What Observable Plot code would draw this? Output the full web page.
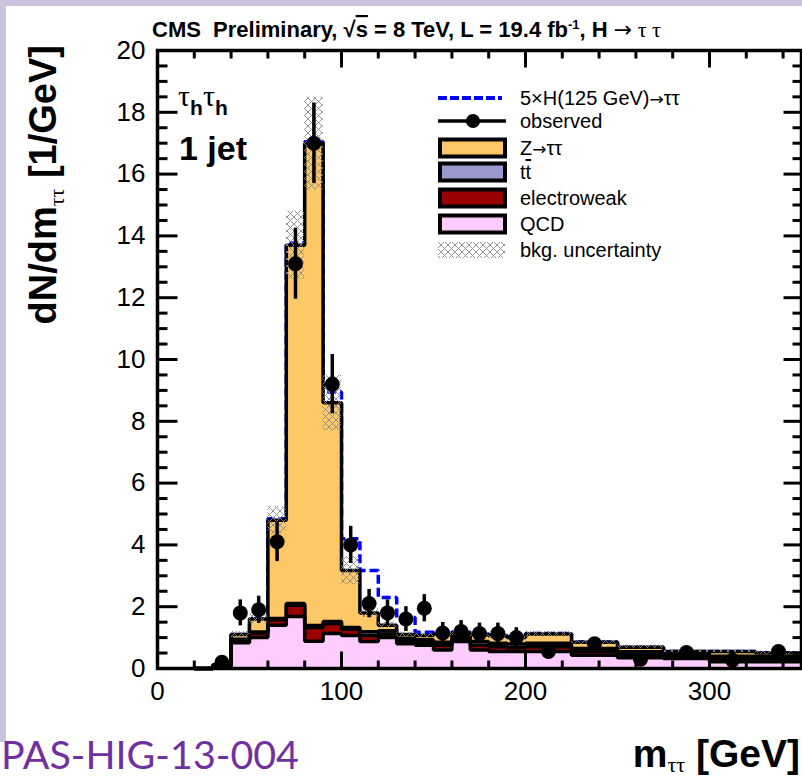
<!DOCTYPE html>
<html><head><meta charset="utf-8">
<script src="https://cdn.jsdelivr.net/npm/d3@7"></script>
<script src="https://cdn.jsdelivr.net/npm/@observablehq/plot@0.6"></script>
<style>
html,body{margin:0;padding:0;background:#fff;}
#wrap{position:relative;width:802px;height:778px;overflow:hidden;}
</style></head><body><div id="wrap"></div>
<script>
// ---- data (per bin, dN/dm in 1/GeV) ----
const binEdges = [20,30,40,50,60,70,80,90,100,110,120,130,140,150,160,170,180,190,200,225,250,275,300,325,350];
const qcd      = [0,0.08,0.83,1.0,1.4,1.68,0.88,1.13,1.07,0.87,1.0,0.8,0.75,0.6,0.87,0.6,0.55,0.55,0.55,0.43,0.35,0.32,0.22,0.22];
const ewk      = [0,0.01,0.1,0.15,0.18,0.37,0.45,0.33,0.2,0.2,0.12,0.1,0.1,0.15,0.1,0.15,0.15,0.12,0.15,0.12,0.1,0.08,0.1,0.08];
const ttbar    = [0,0,0.02,0.03,0.04,0.05,0.06,0.06,0.06,0.12,0.1,0.08,0.08,0.1,0.08,0.12,0.12,0.12,0.12,0.1,0.09,0.07,0.08,0.08];
const ztt      = [0,0.03,0.15,0.42,3.18,11.6,15.6,7.08,1.84,0.61,0.18,0.12,0.14,0.27,0.1,0.23,0.23,0.21,0.3,0.2,0.15,0.08,0.15,0.12];
const higgs5x  = [0,0,0,0,0.05,0.06,0.06,0.35,1.03,1.37,0.9,0.55,0.1,0.04,0.03,0.02,0.02,0.02,0.01,0.01,0,0,0,0];
const bkgUnc   = [0,0.02,0.1,0.15,0.45,1.1,1.5,0.9,0.45,0.15,0.1,0.08,0.08,0.08,0.08,0.08,0.08,0.08,0.08,0.06,0.05,0.04,0.04,0.04];
const observed = [null,0.2,1.8,1.9,4.1,13.1,17.0,9.2,4.0,2.1,1.8,1.6,1.95,1.15,1.2,1.13,1.13,1.0,0.55,0.8,0.3,0.52,0.27,0.55];
const obsErr   = [0,0.14,0.42,0.44,0.64,1.15,1.3,0.96,0.6,0.46,0.42,0.4,0.44,0.34,0.35,0.34,0.34,0.32,0.15,0.18,0.11,0.15,0.1,0.15];
const xTickLabels = [0,100,200,300];
const yTickLabels = [0,2,4,6,8,10,12,14,16,18,20];
const legendLabels = ["5\u00d7H(125 GeV)\u2192\u03c4\u03c4","observed","Z\u2192\u03c4\u03c4","tt\u0304","electroweak","QCD","bkg. uncertainty"];

const colors = {z:"#fdc865", tt:"#9999cc", ewk:"#990000", qcd:"#ffccff", sig:"#0000ff"};

const bins = qcd.map((q,i)=>{
  const c1 = q, c2 = c1+ewk[i], c3 = c2+ttbar[i], c4 = c3+ztt[i];
  return {x1: binEdges[i], x2: binEdges[i+1], c: (binEdges[i]+binEdges[i+1])/2,
          c1, c2, c3, c4, sig: c4+higgs5x[i], unc: bkgUnc[i], obs: observed[i], err: obsErr[i]};
});
const steps = bins.map(b=>({x:b.x1, c1:b.c1, c2:b.c2, c3:b.c3, c4:b.c4, sig:b.sig}));
{ const L = bins[bins.length-1]; steps.push({x:L.x2, c1:L.c1, c2:L.c2, c3:L.c3, c4:L.c4, sig:L.sig}); }
const obsRows = bins.filter(b=>b.obs!=null);

const tickSym = (dx,dy)=>({draw(ctx){ctx.moveTo(0,0);ctx.lineTo(dx,dy);}});
const yMinor = d3.range(0,20.001,0.5).filter(v=>v%2!==0);
const xMinor = d3.range(0,350,20).filter(v=>v%100!==0);

const lineOpt = (key)=>({x:"x", y:key, curve:"step-after", stroke:"black", strokeWidth:3.5, strokeLinejoin:"miter", strokeLinecap:"butt"});
const tickOpt = (sym)=>({symbol:sym, stroke:"black", fill:"none", strokeWidth:3});

const svg = Plot.plot({
  width: 802, height: 778,
  marginLeft: 157, marginRight: 1, marginTop: 50, marginBottom: 110,
  style: {fontFamily: "'Liberation Sans', Arial, sans-serif", fontSize: "26px", background: "transparent", overflow: "visible"},
  x: {domain: [0,350], ticks: xTickLabels, tickSize: 0, tickPadding: 13, label: null},
  y: {domain: [0,20], ticks: yTickLabels, tickSize: 0, tickPadding: 12, label: null},
  marks: [
    Plot.lineY(steps, {x:"x", y:"sig", curve:"step-after", stroke:colors.sig, strokeWidth:3.5, strokeDasharray:"9,4", strokeLinejoin:"miter", strokeLinecap:"butt"}),
    Plot.areaY(steps, {x:"x", y1:"c3", y2:"c4", curve:"step-after", fill:colors.z}),
    Plot.areaY(steps, {x:"x", y1:"c2", y2:"c3", curve:"step-after", fill:colors.tt}),
    Plot.areaY(steps, {x:"x", y1:"c1", y2:"c2", curve:"step-after", fill:colors.ewk}),
    Plot.areaY(steps, {x:"x", y1:0, y2:"c1", curve:"step-after", fill:colors.qcd}),
    Plot.lineY(steps, lineOpt("c4")),
    Plot.lineY(steps, lineOpt("c3")),
    Plot.lineY(steps, lineOpt("c2")),
    Plot.lineY(steps, lineOpt("c1")),
    Plot.rect(bins.filter(b=>b.unc>0), {x1:"x1", x2:"x2", y1:d=>d.c4-d.unc, y2:d=>d.c4+d.unc, fill:"url(#bkgHatch)"}),
    Plot.ruleX(obsRows, {x:"c", y1:d=>d.obs-d.err, y2:d=>d.obs+d.err, stroke:"black", strokeWidth:3.5}),
    Plot.dot(obsRows, {x:"c", y:"obs", r:7.5, fill:"black", stroke:"none"}),
    Plot.dot(yMinor, {x:()=>0, y:d=>d, ...tickOpt(tickSym(10,0))}),
    Plot.dot(yTickLabels, {x:()=>0, y:d=>d, ...tickOpt(tickSym(20,0))}),
    Plot.dot(yMinor, {x:()=>350, y:d=>d, ...tickOpt(tickSym(-9,0))}),
    Plot.dot(yTickLabels, {x:()=>350, y:d=>d, ...tickOpt(tickSym(-18,0))}),
    Plot.dot(xMinor, {x:d=>d, y:()=>0, ...tickOpt(tickSym(0,-8))}),
    Plot.dot(xTickLabels, {x:d=>d, y:()=>0, ...tickOpt(tickSym(0,-17))}),
    Plot.dot(xMinor, {x:d=>d, y:()=>20, ...tickOpt(tickSym(0,8))}),
    Plot.dot(xTickLabels, {x:d=>d, y:()=>20, ...tickOpt(tickSym(0,17))}),
    Plot.frame({stroke:"black", strokeWidth:3.5})
  ]
});
document.getElementById("wrap").appendChild(svg);

const S = d3.select(svg);
const pat = S.insert("defs", ":first-child").append("pattern")
  .attr("id","bkgHatch").attr("patternUnits","userSpaceOnUse").attr("width",7).attr("height",7);
pat.append("path").attr("d","M0,0L7,7M7,0L0,7M-1,6L1,8M6,-1L8,1")
  .attr("stroke","#8a8a8a").attr("stroke-width",0.9).attr("fill","none");

S.append("rect").attr("x",0).attr("y",0).attr("width",802).attr("height",6).attr("fill","#cbc3de");
S.append("rect").attr("x",0).attr("y",0).attr("width",6).attr("height",742).attr("fill","#cbc3de");

const SANS = "'Liberation Sans', Arial, sans-serif";
const SERIF = "'Liberation Serif', 'Times New Roman', serif";
const ARROW = "'DejaVu Sans', sans-serif";
const txt = (x,y,anchor="start")=>S.append("text").attr("x",x).attr("y",y).attr("text-anchor",anchor).attr("fill","black");

// title
const t = txt(152,37).attr("font-family",SANS).attr("font-size",22).attr("font-weight","bold");
t.append("tspan").text("CMS  Preliminary, \u221a");
t.append("tspan").style("text-decoration","overline").text("s");
t.append("tspan").text(" = 8 TeV, L = 19.4 fb");
t.append("tspan").attr("font-size",13).attr("dy",-8).text("-1");
t.append("tspan").attr("dy",8).text(", H ");
t.append("tspan").attr("font-weight","normal").attr("font-family",ARROW).text("\u2192");
t.append("tspan").attr("font-weight","normal").attr("font-family",SERIF).text(" \u03c4 \u03c4");

// y label
const yl = S.append("text").attr("transform","translate(56,45) rotate(-90)").attr("text-anchor","end")
  .attr("font-family",SANS).attr("font-size",38).attr("font-weight","bold").attr("fill","black");
yl.append("tspan").text("dN/dm");
yl.append("tspan").attr("font-size",22).attr("font-weight","normal").attr("font-family",SERIF).attr("dy",8).text("\u03c4\u03c4");
yl.append("tspan").attr("dy",-8).text(" [1/GeV]");

// x label
const xl = txt(800,767,"end").attr("font-family",SANS).attr("font-size",39).attr("font-weight","bold");
xl.append("tspan").text("m");
xl.append("tspan").attr("font-size",22).attr("font-weight","normal").attr("font-family",SERIF).attr("dy",5).text("\u03c4\u03c4");
xl.append("tspan").attr("dy",-5).text(" [GeV]");

// PAS label
txt(1,769).attr("font-family","Lato, 'Open Sans', sans-serif").attr("font-size",38)
  .attr("fill","#7030a0").attr("textLength",298).attr("lengthAdjust","spacingAndGlyphs").text("PAS-HIG-13-004");

// category label
const c1 = txt(178,106);
c1.append("tspan").attr("font-family",SERIF).attr("font-size",30).text("\u03c4");
c1.append("tspan").attr("font-family",SANS).attr("font-weight","bold").attr("font-size",21).attr("dy",9).text("h");
c1.append("tspan").attr("font-family",SERIF).attr("font-size",30).attr("dy",-9).text("\u03c4");
c1.append("tspan").attr("font-family",SANS).attr("font-weight","bold").attr("font-size",21).attr("dy",9).text("h");
txt(179,160).attr("font-family",SANS).attr("font-weight","bold").attr("font-size",34).text("1 jet");

// legend
const rowsY = [98,121,148,172,198,224,250];
const lg = S.append("g");
lg.append("line").attr("x1",438).attr("x2",502).attr("y1",rowsY[0]).attr("y2",rowsY[0]).attr("stroke",colors.sig).attr("stroke-width",4).attr("stroke-dasharray","9,3");
lg.append("line").attr("x1",438).attr("x2",506).attr("y1",rowsY[1]).attr("y2",rowsY[1]).attr("stroke","black").attr("stroke-width",3.5);
lg.append("circle").attr("cx",473).attr("cy",rowsY[1]).attr("r",7).attr("fill","black");
[colors.z, colors.tt, colors.ewk, colors.qcd].forEach((c,i)=>{
  lg.append("rect").attr("x",440).attr("y",rowsY[i+2]-8.5).attr("width",65).attr("height",17)
    .attr("fill",c).attr("stroke","black").attr("stroke-width",4);
});
lg.append("rect").attr("x",438).attr("y",rowsY[6]-8).attr("width",67).attr("height",16).attr("fill","url(#bkgHatch)");
legendLabels.forEach((s,i)=>{
  const tx = txt(520,rowsY[i]+7).attr("font-family",SANS).attr("font-size",20);
  if (i===3){ tx.append("tspan").text("t"); tx.append("tspan").style("text-decoration","overline").text("t"); }
  else if (i===0){ tx.append("tspan").text("5\u00d7H(125 GeV)"); tx.append("tspan").attr("font-family",ARROW).attr("font-size",17).text("\u2192"); tx.append("tspan").text("\u03c4\u03c4"); }
  else if (i===2){ tx.append("tspan").text("Z"); tx.append("tspan").attr("font-family",ARROW).attr("font-size",17).text("\u2192"); tx.append("tspan").text("\u03c4\u03c4"); }
  else tx.text(s);
});
</script></body></html>
